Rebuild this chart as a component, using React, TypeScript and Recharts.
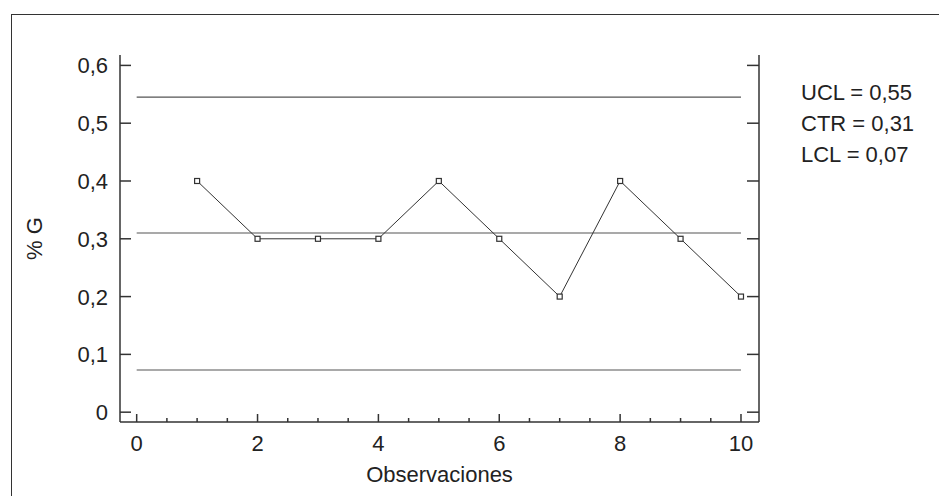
import { LineChart, Line, XAxis, YAxis, ReferenceLine } from "recharts"

// observations and % G values
const observations = [1, 2, 3, 4, 5, 6, 7, 8, 9, 10]
const pctG = [0.4, 0.3, 0.3, 0.3, 0.4, 0.3, 0.2, 0.4, 0.3, 0.2]

// control limits
const ucl = 0.545
const ctr = 0.31
const lcl = 0.073
const limitLabels = ["UCL = 0,55", "CTR = 0,31", "LCL = 0,07"]

// axis ticks
const xMajorTicks = [0, 2, 4, 6, 8, 10]
const xAllTicks = [0, 0.5, 1, 1.5, 2, 2.5, 3, 3.5, 4, 4.5, 5, 5.5, 6, 6.5, 7, 7.5, 8, 8.5, 9, 9.5, 10]
const yTicks = [0, 0.1, 0.2, 0.3, 0.4, 0.5, 0.6]

const data = observations.map((obs, i) => ({ obs, value: pctG[i] }))

const FONT = "'Liberation Sans', Arial, sans-serif"
const DARK = "#333"
const X_DOMAIN: [number, number] = [-0.276, 10.298]
const Y_DOMAIN: [number, number] = [-0.017, 0.618]

const fmt = (v: number) => String(v).replace(".", ",")

const SquareDot = (props: any) => {
  const { cx, cy } = props
  if (cx == null || cy == null) return null
  return <rect x={cx - 2.5} y={cy - 2.5} width={5} height={5} fill="#fff" stroke={DARK} strokeWidth={1.2} />
}

const BottomTick = (props: any) => {
  const { x, y, payload } = props
  const major = xMajorTicks.includes(payload.value)
  return (
    <g>
      <line x1={x} x2={x} y1={y} y2={y - (major ? 8 : 4)} stroke={DARK} strokeWidth={1.5} />
      {major && (
        <text x={x} y={y + 29} textAnchor="middle" fontSize={22} fontFamily={FONT} fill="#222">
          {payload.value}
        </text>
      )}
    </g>
  )
}

const TopTick = (props: any) => {
  const { x, y, payload } = props
  const major = xMajorTicks.includes(payload.value)
  return <line x1={x} x2={x} y1={y} y2={y + (major ? 7 : 3)} stroke={DARK} strokeWidth={1.5} />
}

const LeftTick = (props: any) => {
  const { x, y, payload } = props
  return (
    <g>
      <line x1={x} x2={x + 11} y1={y} y2={y} stroke={DARK} strokeWidth={1.5} />
      <text x={x - 12} y={y + 8} textAnchor="end" fontSize={22} fontFamily={FONT} fill="#222">
        {fmt(payload.value)}
      </text>
    </g>
  )
}

const RightTick = (props: any) => {
  const { x, y } = props
  return <line x1={x} x2={x - 12} y1={y} y2={y} stroke={DARK} strokeWidth={1.5} />
}

export default function App() {
  return (
    <div style={{ position: "absolute", left: 0, top: 0, width: 939, height: 496, background: "#fff", overflow: "hidden" }}>
      {/* outer frame */}
      <div
        style={{
          position: "absolute",
          left: 10.5,
          top: 13.5,
          width: 940,
          height: 500,
          borderLeft: `1.5px solid ${DARK}`,
          borderTop: `1.5px solid ${DARK}`,
        }}
      />

      <div style={{ position: "absolute", left: 0, top: 0 }}>
        <LineChart width={939} height={496} data={data} margin={{ top: 55, right: 0, bottom: 0, left: 0 }}>
          <XAxis
            xAxisId="bottom"
            dataKey="obs"
            type="number"
            domain={X_DOMAIN}
            ticks={xAllTicks}
            interval={0}
            allowDataOverflow
            height={74}
            tickSize={0}
            tickMargin={0}
            tickLine={false}
            tick={BottomTick}
            axisLine={{ stroke: DARK, strokeWidth: 1.5 }}
            label={{
              value: "Observaciones",
              position: "insideBottom",
              offset: 14,
              fontSize: 22,
              fontFamily: FONT,
              fill: "#222",
            }}
          />
          <XAxis
            xAxisId="top"
            orientation="top"
            dataKey="obs"
            type="number"
            domain={X_DOMAIN}
            ticks={xAllTicks}
            interval={0}
            allowDataOverflow
            height={0}
            tickSize={0}
            tickMargin={0}
            tickLine={false}
            tick={TopTick}
            axisLine={{ stroke: DARK, strokeWidth: 1.5 }}
          />
          <YAxis
            yAxisId="left"
            type="number"
            domain={Y_DOMAIN}
            ticks={yTicks}
            interval={0}
            allowDataOverflow
            width={120}
            tickSize={0}
            tickMargin={0}
            tickLine={false}
            tick={LeftTick}
            axisLine={{ stroke: DARK, strokeWidth: 1.5 }}
            label={{
              value: "% G",
              angle: -90,
              position: "insideLeft",
              offset: 34,
              fontSize: 22,
              fontFamily: FONT,
              fill: "#222",
              style: { textAnchor: "middle" },
            }}
          />
          <YAxis
            yAxisId="right"
            orientation="right"
            type="number"
            domain={Y_DOMAIN}
            ticks={yTicks}
            interval={0}
            allowDataOverflow
            width={180}
            tickSize={0}
            tickMargin={0}
            tickLine={false}
            tick={RightTick}
            axisLine={{ stroke: DARK, strokeWidth: 1.5 }}
          />

          {[ucl, ctr, lcl].map((v) => (
            <ReferenceLine
              key={v}
              xAxisId="bottom"
              yAxisId="left"
              segment={[
                { x: 0, y: v },
                { x: 10, y: v },
              ]}
              stroke="#555"
              strokeWidth={1.2}
            />
          ))}

          <Line
            xAxisId="bottom"
            yAxisId="left"
            dataKey="value"
            type="linear"
            stroke={DARK}
            strokeWidth={1}
            dot={SquareDot}
            activeDot={false}
            isAnimationActive={false}
          />
        </LineChart>
      </div>

      {/* control limit labels */}
      {limitLabels.map((t, i) => (
        <div
          key={t}
          style={{
            position: "absolute",
            left: 801,
            top: 80 + i * 31,
            fontFamily: FONT,
            fontSize: 22,
            lineHeight: "26px",
            color: "#222",
            whiteSpace: "nowrap",
          }}
        >
          {t}
        </div>
      ))}
    </div>
  )
}
